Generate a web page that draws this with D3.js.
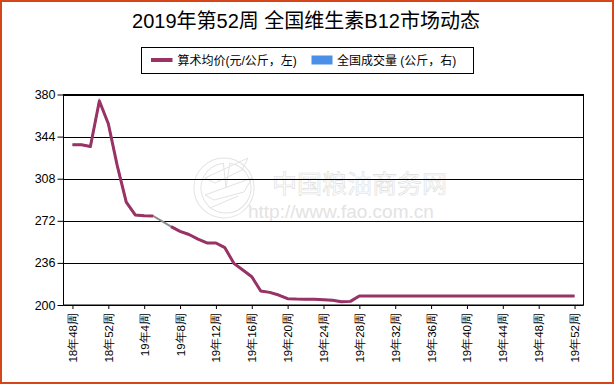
<!DOCTYPE html>
<html>
<head>
<meta charset="utf-8">
<script src="https://cdn.jsdelivr.net/npm/d3@7"></script>
<style>
  body { margin: 0; background: #fff; }
  svg { display: block; font-family: Arial, "Liberation Sans", "Noto Sans CJK SC", sans-serif; }
</style>
</head>
<body>
<div id="chart"></div>
<script>
// Chart data
const weeks = [
    "18年48周", "18年49周", "18年50周", "18年51周", "18年52周",
    "19年1周", "19年2周", "19年3周", "19年4周", "19年5周", "19年6周", "19年7周", "19年8周",
    "19年9周", "19年10周", "19年11周", "19年12周", "19年13周", "19年14周", "19年15周", "19年16周",
    "19年17周", "19年18周", "19年19周", "19年20周", "19年21周", "19年22周", "19年23周", "19年24周",
    "19年25周", "19年26周", "19年27周", "19年28周", "19年29周", "19年30周", "19年31周", "19年32周",
    "19年33周", "19年34周", "19年35周", "19年36周", "19年37周", "19年38周", "19年39周", "19年40周",
    "19年41周", "19年42周", "19年43周", "19年44周", "19年45周", "19年46周", "19年47周", "19年48周",
    "19年49周", "19年50周", "19年51周", "19年52周"
];
const price = [
    337, 337, 335.5, 374.5, 355, 319, 288, 277, 276.3, 276.2, null, 267, 263,
    260.3, 256.3, 253.1, 253, 249, 235.6, 230, 224.2, 212, 210.8, 208.5, 205.4,
    205.1, 205, 204.9, 204.5, 204, 202.8, 203.1, 207.7, 207.7, 207.7, 207.7, 207.7,
    207.7, 207.7, 207.7, 207.7, 207.7, 207.7, 207.7, 207.7, 207.7, 207.7, 207.7, 207.7,
    207.7, 207.7, 207.7, 207.7, 207.7, 207.7, 207.7, 207.7
];
const yTicks = [200, 236, 272, 308, 344, 380];
const xTickLabels = weeks.filter((d, i) => i % 4 === 0);

const titleText = "2019年第52周 全国维生素B12市场动态";
const legendPrice = "算术均价(元/公斤，左)";
const legendVolume = "全国成交量 (公斤，右)";

const width = 615, height = 385;
const margin = { top: 94.5, right: 31.5, bottom: 80, left: 63.5 };

const svg = d3.select("#chart").append("svg")
    .attr("width", width)
    .attr("height", height);

svg.append("rect")
    .attr("width", width).attr("height", height)
    .attr("fill", "#fff");

// Orange outer frame
svg.append("rect")
    .attr("x", 1).attr("y", 1)
    .attr("width", 612).attr("height", 382)
    .attr("fill", "none")
    .attr("stroke", "#d4461a")
    .attr("stroke-width", 2);

// Title
svg.append("text")
    .attr("x", 306).attr("y", 28)
    .attr("text-anchor", "middle")
    .style("font-size", "20px")
    .text(titleText);

// Legend
const legend = svg.append("g");
legend.append("rect")
    .attr("x", 141.5).attr("y", 47.5)
    .attr("width", 332).attr("height", 26)
    .attr("fill", "#fff").attr("stroke", "#000");
legend.append("line")
    .attr("x1", 151).attr("x2", 172.5)
    .attr("y1", 60).attr("y2", 60)
    .attr("stroke", "#993366").attr("stroke-width", 4);
legend.append("text")
    .attr("x", 177.5).attr("y", 64.5)
    .style("font-size", "12px")
    .text(legendPrice);
legend.append("rect")
    .attr("x", 311.5).attr("y", 55.5)
    .attr("width", 21).attr("height", 9)
    .attr("fill", "#4a90e8");
legend.append("text")
    .attr("x", 337).attr("y", 64.5)
    .style("font-size", "12px")
    .text(legendVolume);

const plotW = width - margin.left - margin.right;
const plotH = height - margin.top - margin.bottom;

const x = d3.scalePoint()
    .domain(weeks)
    .range([margin.left, margin.left + plotW])
    .padding(1);

const y = d3.scaleLinear()
    .domain([200, 380])
    .range([margin.top + plotH, margin.top]);

// Watermark
const wm = svg.append("g").attr("fill", "none").attr("stroke", "#e3e3e3").attr("stroke-width", 1);
wm.append("path").attr("d", d3.arc()({ innerRadius: 0, outerRadius: 30, startAngle: 0.35, endAngle: Math.PI * 1.95 + 0.6 }))
    .attr("transform", "translate(224,188) rotate(-20)");
wm.append("path").attr("d", d3.arc()({ innerRadius: 0, outerRadius: 25, startAngle: 0.5, endAngle: Math.PI * 1.95 + 0.4 }))
    .attr("transform", "translate(226,188) rotate(-20)");
wm.append("path").attr("d", "M205,178 L248,158 L242,170 L215,183 Z M205,195 L252,178 L244,192 L214,200 Z M210,208 L238,196");
svg.append("text")
    .attr("x", 272).attr("y", 193)
    .attr("fill", "#fff").attr("stroke", "#dcdcdc").attr("stroke-width", 0.6)
    .style("font-size", "25px")
    .style("font-family", "'Noto Sans CJK SC', sans-serif")
    .text("中国粮油商务网");
svg.append("text")
    .attr("x", 248).attr("y", 218)
    .attr("fill", "#e3e3e3")
    .style("font-size", "19px")
    .text("http://www.fao.com.cn");

// Gridlines
svg.append("g")
    .selectAll("line")
    .data(yTicks)
    .join("line")
    .attr("x1", margin.left).attr("x2", margin.left + plotW)
    .attr("y1", d => Math.round(y(d)) + 0.5).attr("y2", d => Math.round(y(d)) + 0.5)
    .attr("stroke", "#000");

// Plot frame
svg.append("rect")
    .attr("x", margin.left).attr("y", margin.top)
    .attr("width", plotW).attr("height", plotH)
    .attr("fill", "none").attr("stroke", "#000");

// Y axis
const yAxis = svg.append("g")
    .attr("transform", `translate(${margin.left},0)`)
    .call(d3.axisLeft(y).tickValues(yTicks).tickSize(6).tickPadding(2));
yAxis.select(".domain").remove();
yAxis.selectAll("text").style("font-size", "12.5px").attr("fill", "#000")
    .style("font-family", "Arial, 'Liberation Sans', sans-serif");

// X axis
const xAxis = svg.append("g")
    .attr("transform", `translate(0,${margin.top + plotH})`)
    .call(d3.axisBottom(x).tickValues(xTickLabels).tickSize(4));
xAxis.select(".domain").remove();
xAxis.selectAll("text")
    .attr("transform", "rotate(-90)")
    .attr("text-anchor", "end")
    .attr("x", -8).attr("y", 0).attr("dy", "0.35em")
    .attr("fill", "#000")
    .style("font-size", "11.5px");

// Price line (gray connector across missing weeks, then the series)
const lineGen = d3.line()
    .x((d, i) => x(weeks[i]))
    .y(d => y(d));

const points = price.map((v, i) => ({ w: weeks[i], v })).filter(d => d.v !== null);
svg.append("path")
    .datum(points)
    .attr("fill", "none")
    .attr("stroke", "#8c8c8c")
    .attr("stroke-width", 2)
    .attr("d", d3.line().x(d => x(d.w)).y(d => y(d.v)));

svg.append("path")
    .datum(price)
    .attr("fill", "none")
    .attr("stroke", "#993366")
    .attr("stroke-width", 3)
    .attr("stroke-linejoin", "round")
    .attr("d", lineGen.defined(d => d !== null));
</script>
</body>
</html>
